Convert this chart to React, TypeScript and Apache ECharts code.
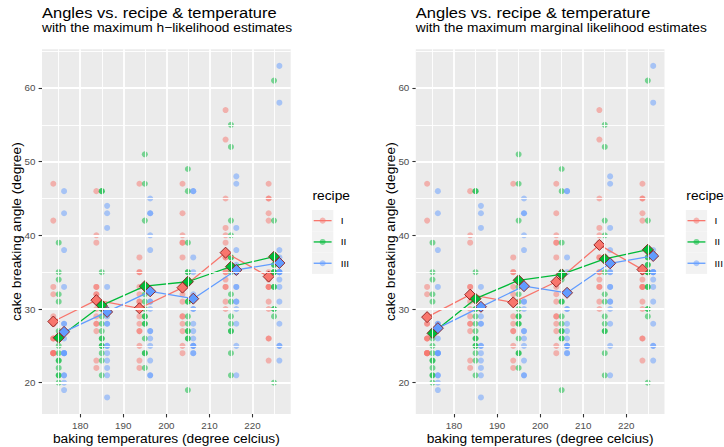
import React, { useEffect, useRef } from 'react';
import * as echarts from 'echarts';

const FONT = "'Liberation Sans', Arial, Helvetica, sans-serif";

const temperatures = [175, 185, 195, 205, 215, 225];
const recipes = ['I', 'II', 'III'];
const recipeColors = ['#F8766D', '#00BA38', '#619CFF'];
const dodge = [-1.25, 0, 1.25];
const xTicks = [180, 190, 200, 210, 220];
const yTicks = [20, 30, 40, 50, 60];
const xMinor = [175, 185, 195, 205, 215, 225];
const yMinor = [25, 35, 45, 55, 65];

// observed angles, rows = temperatures, 15 replicates each
const anglesI = [
  [42, 47, 32, 26, 28, 24, 26, 24, 24, 24, 33, 28, 29, 24, 26],
  [46, 29, 32, 32, 30, 22, 23, 33, 27, 33, 39, 31, 28, 40, 28],
  [47, 35, 37, 35, 31, 22, 25, 23, 28, 27, 33, 27, 31, 29, 32],
  [39, 47, 43, 24, 37, 29, 27, 32, 33, 31, 28, 39, 29, 40, 25],
  [53, 57, 45, 39, 41, 35, 33, 31, 34, 30, 33, 35, 37, 40, 37],
  [42, 45, 45, 26, 47, 26, 35, 34, 23, 33, 30, 43, 33, 31, 33],
];
const anglesII = [
  [39, 35, 34, 25, 31, 24, 22, 26, 27, 21, 20, 23, 32, 23, 21],
  [46, 46, 30, 26, 30, 29, 25, 23, 26, 24, 27, 28, 35, 25, 21],
  [51, 47, 42, 28, 29, 29, 26, 24, 32, 24, 33, 31, 30, 22, 28],
  [49, 39, 35, 46, 35, 29, 26, 31, 28, 27, 31, 34, 27, 19, 26],
  [55, 52, 42, 37, 40, 24, 29, 27, 32, 37, 28, 31, 35, 21, 27],
  [42, 61, 35, 37, 36, 35, 36, 37, 33, 30, 33, 29, 30, 35, 20],
];
const anglesIII = [
  [46, 43, 33, 38, 21, 24, 20, 24, 24, 26, 28, 24, 28, 19, 21],
  [44, 43, 24, 41, 25, 33, 21, 23, 18, 28, 25, 30, 29, 22, 28],
  [45, 43, 40, 38, 31, 23, 31, 21, 21, 27, 26, 30, 43, 27, 25],
  [46, 46, 37, 30, 35, 32, 24, 24, 26, 27, 25, 30, 28, 25, 25],
  [48, 47, 41, 36, 33, 31, 30, 21, 28, 35, 38, 35, 33, 25, 31],
  [63, 58, 38, 35, 23, 34, 33, 35, 28, 35, 31, 25, 37, 35, 25],
];

// maximum h-likelihood estimates (left panel)
const hlI = [28.3, 31.2, 30.1, 32.9, 37.65, 34.4];
const hlII = [26.1, 30.5, 33.1, 33.7, 35.75, 37.1];
const hlIII = [26.9, 29.6, 32.4, 31.4, 35.3, 36.25];
// maximum marginal likelihood estimates (right panel)
const mlI = [28.9, 31.95, 30.9, 33.7, 38.7, 35.35];
const mlII = [26.7, 31.4, 33.9, 34.7, 36.8, 38.05];
const mlIII = [27.4, 30.3, 33.1, 32.2, 36.2, 37.2];

const titleText = 'Angles vs. recipe & temperature';
const subtitles = [
  'with the maximum h\u2212likelihood estimates',
  'with the maximum marginal likelihood estimates',
];
const xTitle = 'baking temperatures (degree celcius)';
const yTitle = 'cake breaking angle (degree)';
const legendTitle = 'recipe';

const angles = [anglesI, anglesII, anglesIII];
const estimates = [
  [hlI, hlII, hlIII],
  [mlI, mlII, mlIII],
];

const PANEL_LEFT = [42, 415.8];
const PANEL_TOP = 49.3;
const PANEL_W = 248.7;
const PANEL_H = 364.7;
const SY = 0.92; // slight glyph height squash seen in the reference text

function buildPanel(p: number) {
  const grid = {
    left: PANEL_LEFT[p],
    top: PANEL_TOP,
    width: PANEL_W,
    height: PANEL_H,
    show: true,
    backgroundColor: '#EBEBEB',
    borderWidth: 0,
    containLabel: false,
  };
  const labelStyle = { color: '#4D4D4D', fontSize: 9.8, fontFamily: FONT };
  const xAxis = {
    gridIndex: p,
    type: 'value',
    min: 171.125,
    max: 228.875,
    axisLine: { show: false },
    axisTick: { show: true, length: 3.4, lineStyle: { color: '#333333', width: 1.1 }, customValues: xTicks },
    axisLabel: { ...labelStyle, margin: 6.5, customValues: xTicks },
    splitLine: { show: false },
    minorSplitLine: { show: false },
  };
  const yAxis = {
    gridIndex: p,
    type: 'value',
    min: 15.75,
    max: 65.25,
    axisLine: { show: false },
    axisTick: { show: true, length: 3.4, lineStyle: { color: '#333333', width: 1.1 }, customValues: yTicks },
    axisLabel: { ...labelStyle, margin: 6.5, customValues: yTicks },
    splitLine: { show: false },
  };

  const gridLines: any[] = [];
  xMinor.forEach((v) => gridLines.push({ xAxis: v, lineStyle: { color: '#FFFFFF', width: 0.9, type: 'solid' } }));
  yMinor.forEach((v) => gridLines.push({ yAxis: v, lineStyle: { color: '#FFFFFF', width: 0.9, type: 'solid' } }));
  xTicks.forEach((v) => gridLines.push({ xAxis: v, lineStyle: { color: '#FFFFFF', width: 1.8, type: 'solid' } }));
  yTicks.forEach((v) => gridLines.push({ yAxis: v, lineStyle: { color: '#FFFFFF', width: 1.8, type: 'solid' } }));

  const series: any[] = [
    {
      type: 'scatter',
      xAxisIndex: p,
      yAxisIndex: p,
      data: [],
      z: 0,
      silent: true,
      markLine: {
        silent: true,
        symbol: ['none', 'none'],
        label: { show: false },
        emphasis: { disabled: true },
        data: gridLines,
      },
    },
  ];

  recipes.forEach((r, ri) => {
    const pts: number[][] = [];
    temperatures.forEach((t, ti) => {
      angles[ri][ti].forEach((v) => pts.push([t + dodge[ri], v]));
    });
    series.push({
      type: 'scatter',
      name: r,
      xAxisIndex: p,
      yAxisIndex: p,
      data: pts,
      symbol: 'circle',
      symbolSize: 6,
      itemStyle: { color: recipeColors[ri], opacity: 0.5 },
      z: 2,
      silent: true,
    });
  });

  recipes.forEach((r, ri) => {
    series.push({
      type: 'line',
      name: r + ' estimate line',
      xAxisIndex: p,
      yAxisIndex: p,
      data: temperatures.map((t, ti) => [t + dodge[ri], estimates[p][ri][ti]]),
      showSymbol: false,
      symbol: 'none',
      lineStyle: { color: recipeColors[ri], width: 1.3 },
      z: 3,
      silent: true,
    });
  });

  recipes.forEach((r, ri) => {
    series.push({
      type: 'scatter',
      name: r + ' estimate',
      xAxisIndex: p,
      yAxisIndex: p,
      data: temperatures.map((t, ti) => [t + dodge[ri], estimates[p][ri][ti]]),
      symbol: 'diamond',
      symbolSize: 11,
      itemStyle: { color: recipeColors[ri], borderColor: '#8B1A1A', borderWidth: 0.9, opacity: 1 },
      z: 4,
      silent: true,
    });
  });

  return { grid, xAxis, yAxis, series };
}

function txt(text: string, x: number, y: number, size: number, align: string, extra: any = {}) {
  return {
    type: 'text',
    x,
    y,
    scaleY: SY,
    ...extra,
    style: { text, fill: '#000000', fontSize: size, fontFamily: FONT, align, verticalAlign: 'middle' },
  };
}

function buildGraphics(p: number) {
  const dx = PANEL_LEFT[p] - PANEL_LEFT[0];
  const els: any[] = [];
  els.push(txt(titleText, 42 + dx, 12.9, 16.5, 'left'));
  els.push(txt(subtitles[p], 42 + dx, 27.9, 13.75, 'left'));
  els.push(txt(xTitle, PANEL_LEFT[p] + PANEL_W / 2, 439.1, 13.75, 'center'));
  els.push(txt(yTitle, 16.5 + dx, PANEL_TOP + PANEL_H / 2, 13.75, 'center', { rotation: Math.PI / 2 }));
  // legend
  const lx = 312 + dx;
  els.push(txt(legendTitle, lx + 0.5, 196, 13.75, 'left'));
  const keySize = 21.3;
  const keyTop = 210;
  recipes.forEach((r, ri) => {
    const cy = keyTop + keySize * ri + keySize / 2;
    els.push({
      type: 'rect',
      shape: { x: lx, y: keyTop + keySize * ri, width: keySize, height: keySize },
      style: { fill: '#F2F2F2' },
    });
    els.push({
      type: 'line',
      shape: { x1: lx + 1.7, y1: cy, x2: lx + keySize - 1.7, y2: cy },
      style: { stroke: recipeColors[ri], lineWidth: 1.3 },
    });
    els.push({
      type: 'circle',
      shape: { cx: lx + keySize / 2, cy, r: 3 },
      style: { fill: recipeColors[ri], opacity: 0.5 },
    });
    els.push(txt(r, lx + 28.7, cy, 10.2, 'left'));
  });
  return els;
}

export default function App() {
  const ref = useRef<HTMLDivElement>(null);
  useEffect(() => {
    if (!ref.current) return;
    const chart = echarts.init(ref.current, null, { renderer: 'svg' });
    const panels = [buildPanel(0), buildPanel(1)];
    const option: any = {
      animation: false,
      backgroundColor: '#FFFFFF',
      textStyle: { fontFamily: FONT },
      grid: panels.map((p) => p.grid),
      xAxis: panels.map((p) => p.xAxis),
      yAxis: panels.map((p) => p.yAxis),
      series: [...panels[0].series, ...panels[1].series],
      graphic: { elements: [...buildGraphics(0), ...buildGraphics(1)] },
    };
    chart.setOption(option);
    return () => chart.dispose();
  }, []);
  return (
    <div
      ref={ref}
      style={{ position: 'fixed', left: 0, top: 0, width: 724, height: 447, background: '#FFFFFF' }}
    />
  );
}
